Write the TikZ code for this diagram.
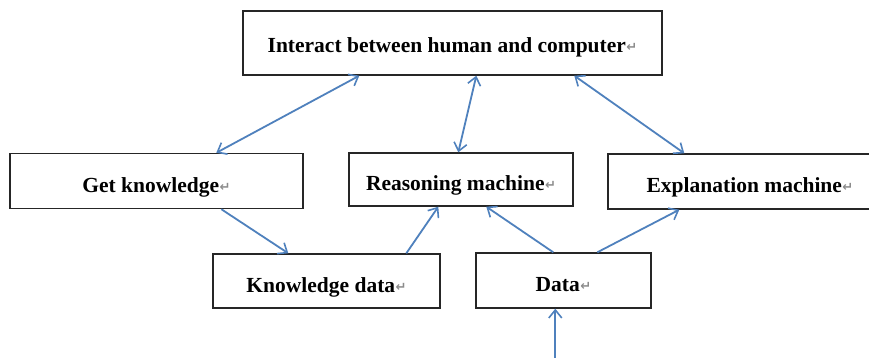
\documentclass[tikz,border=0pt]{standalone}
\usepackage{fontspec}
\setmainfont{Liberation Serif}
\newfontfamily\retfont{DejaVu Sans}
\usetikzlibrary{arrows.meta,calc}
\definecolor{arrowblue}{HTML}{4F81BD}
\definecolor{retgray}{HTML}{8C8C8C}
\newcommand\retmark{\hspace{0.5pt}{\retfont\fontsize{13}{13}\selectfont\color{retgray}\raisebox{1pt}{↵}}}
\begin{document}
\begin{tikzpicture}[x=1pt,y=-1pt,
  box/.style={draw=black!85,line width=1.4pt,rectangle,inner sep=0pt,
    font=\bfseries\fontsize{21.5}{24}\selectfont,text height=22pt,text depth=0pt},
  topbox/.style={box,text height=18pt},
  conn/.style={draw=arrowblue,line width=1.8pt,-{Straight Barb[length=8pt,width=13pt,line width=1.6pt]}},
  biconn/.style={conn,{Straight Barb[length=8pt,width=13pt,line width=1.6pt]}-{Straight Barb[length=8pt,width=13pt,line width=1.6pt]}}]
\useasboundingbox (0,0) rectangle (869,357);
\clip (0,0) rectangle (869,357);
\fill[white] (0,0) rectangle (869,357);
\node[topbox,minimum width=419pt,minimum height=64pt] (top) at (452.5,43) {Interact between human and computer\retmark};
\node[box,minimum width=293pt,minimum height=55pt] (gk) at (156.5,181) {Get knowledge\retmark};
\node[box,minimum width=224pt,minimum height=53pt] (rm) at (461,179.5) {Reasoning machine\retmark};
\node[box,minimum width=284pt,minimum height=55pt] (em) at (750,181.5) {Explanation machine\retmark};
\node[box,minimum width=227pt,minimum height=54pt] (kd) at (326.5,281) {Knowledge data\retmark};
\node[box,minimum width=175pt,minimum height=55pt] (da) at (563.5,280.5) {Data\retmark};
\coordinate (dain) at ([xshift=80pt]da.south west);
\coordinate (src) at (dain |- 0,362);
\draw[biconn] ([xshift=117pt]top.south west) -- ([xshift=207pt]gk.north west);
\draw[biconn] ([xshift=234pt]top.south west) -- ([xshift=110pt]rm.north west);
\draw[biconn] ([xshift=332pt]top.south west) -- ([xshift=77pt]em.north west);
\draw[conn] ([xshift=212pt]gk.south west) -- ([xshift=76pt]kd.north west);
\draw[conn] ([xshift=194pt]kd.north west) -- ([xshift=90pt]rm.south west);
\draw[conn] ([xshift=78pt]da.north west) -- ([xshift=138pt]rm.south west);
\draw[conn] ([xshift=122pt]da.north west) -- ([xshift=72pt]em.south west);
\draw[conn] (src) -- (dain);
\end{tikzpicture}
\end{document}
